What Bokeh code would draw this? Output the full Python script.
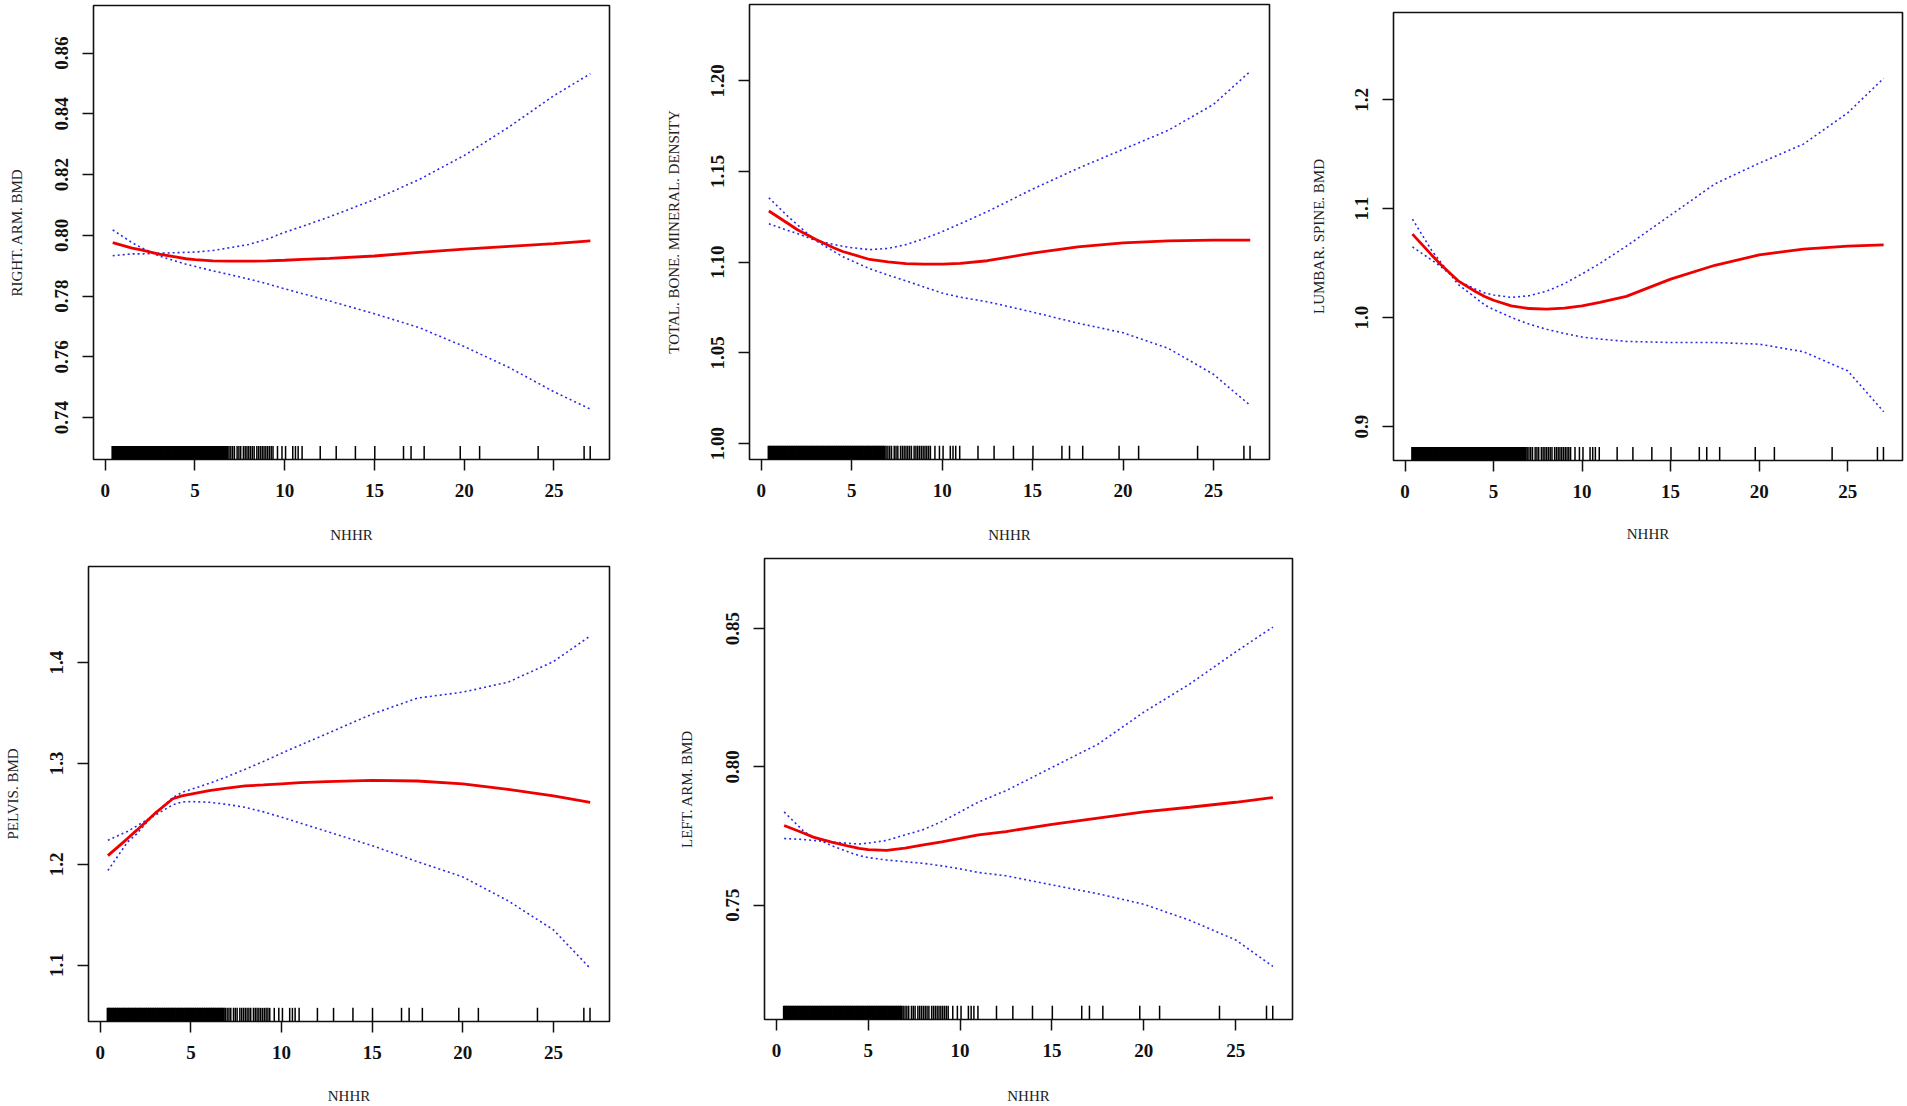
from bokeh.plotting import figure
from bokeh.layouts import row, column
from bokeh.models import FixedTicker, Range1d, PrintfTickFormatter
from bokeh.embed import file_html
from bokeh.resources import INLINE

# ---------------- data ----------------
nhhr_grid = [0.42, 1.5, 2, 3, 4, 4.5, 5, 6, 7, 8, 9, 10, 11, 12.5, 15, 17.5, 20, 22.5, 25, 27.03]

right_arm_fit = [0.7976, 0.7958, 0.7952, 0.7938, 0.7928, 0.7923, 0.7920, 0.7916, 0.7915, 0.7915,
                 0.7916, 0.7918, 0.7921, 0.7924, 0.7932, 0.7944, 0.7955, 0.7964, 0.7973, 0.7982]
right_arm_ci_a = [0.8018, 0.7976, 0.7960, 0.7932, 0.7914, 0.7905, 0.7898, 0.7883, 0.7870, 0.7856,
                  0.7841, 0.7824, 0.7808, 0.7784, 0.7742, 0.7696, 0.7634, 0.7565, 0.7485, 0.7428]
right_arm_ci_b = [0.7933, 0.7939, 0.7939, 0.7941, 0.7943, 0.7944, 0.7945, 0.7950, 0.7960, 0.7970,
                  0.7987, 0.8010, 0.8030, 0.8061, 0.8118, 0.8184, 0.8263, 0.8357, 0.8460, 0.8532]

total_bmd_fit = [1.1282, 1.1212, 1.1179, 1.1126, 1.1080, 1.1059, 1.1044, 1.1015, 1.1002, 1.0992,
                 1.0989, 1.0989, 1.0994, 1.1008, 1.1050, 1.1084, 1.1107, 1.1118, 1.1122, 1.1122]
total_bmd_ci_a = [1.1355, 1.1250, 1.1206, 1.1120, 1.1060, 1.1031, 1.1008, 1.0964, 1.0929, 1.0897,
                  1.0863, 1.0830, 1.0807, 1.0782, 1.0725, 1.0664, 1.0611, 1.0525, 1.0382, 1.0210]
total_bmd_ci_b = [1.1212, 1.1174, 1.1158, 1.1120, 1.1098, 1.1088, 1.1080, 1.1069, 1.1076, 1.1097,
                  1.1130, 1.1168, 1.1212, 1.1279, 1.1403, 1.1517, 1.1622, 1.1727, 1.1870, 1.2052]

lumbar_fit = [1.0767, 1.0576, 1.0491, 1.0338, 1.0238, 1.0195, 1.0160, 1.0109, 1.0084, 1.0078,
              1.0087, 1.0109, 1.0141, 1.0195, 1.0354, 1.0481, 1.0576, 1.0630, 1.0656, 1.0669]
lumbar_ci_a = [1.0904, 1.0618, 1.0513, 1.0306, 1.0180, 1.0116, 1.0074, 1.0003, 0.9941, 0.9893,
               0.9855, 0.9822, 0.9804, 0.9782, 0.9772, 0.9772, 0.9757, 0.9687, 0.9512, 0.9137]
lumbar_ci_b = [1.0650, 1.0529, 1.0472, 1.0338, 1.0260, 1.0227, 1.0208, 1.0186, 1.0201, 1.0243,
               1.0313, 1.0402, 1.0497, 1.0656, 1.0942, 1.1228, 1.1418, 1.1593, 1.1880, 1.2197]

pelvis_fit = [1.2086, 1.2255, 1.2336, 1.2502, 1.2650, 1.2678, 1.2696, 1.2731, 1.2756, 1.2777,
              1.2787, 1.2798, 1.2809, 1.2819, 1.2833, 1.2826, 1.2798, 1.2742, 1.2678, 1.2615]
pelvis_ci_a = [1.2238, 1.2326, 1.2379, 1.2484, 1.2590, 1.2618, 1.2622, 1.2615, 1.2594, 1.2565,
               1.2520, 1.2467, 1.2410, 1.2326, 1.2185, 1.2026, 1.1875, 1.1638, 1.1350, 1.0968]
pelvis_ci_b = [1.1938, 1.2220, 1.2300, 1.2502, 1.2661, 1.2713, 1.2742, 1.2802, 1.2869, 1.2943,
               1.3020, 1.3101, 1.3179, 1.3295, 1.3489, 1.3648, 1.3707, 1.3806, 1.4010, 1.4264]

left_arm_fit = [0.7788, 0.7760, 0.7746, 0.7728, 0.7712, 0.7705, 0.7701, 0.7698, 0.7706, 0.7718,
                0.7729, 0.7741, 0.7754, 0.7766, 0.7792, 0.7815, 0.7837, 0.7854, 0.7872, 0.7889]
left_arm_ci_a = [0.7837, 0.7766, 0.7747, 0.7715, 0.7690, 0.7679, 0.7672, 0.7663, 0.7657, 0.7651,
                 0.7642, 0.7631, 0.7618, 0.7606, 0.7573, 0.7541, 0.7503, 0.7445, 0.7374, 0.7278]
left_arm_ci_b = [0.7741, 0.7737, 0.7734, 0.7728, 0.7723, 0.7721, 0.7724, 0.7734, 0.7754, 0.7773,
                 0.7802, 0.7837, 0.7873, 0.7914, 0.7998, 0.8082, 0.8198, 0.8300, 0.8416, 0.8506]

# observed NHHR values shown as the rug: a dense block below ~7, then sparse values
rug_nhhr_dense = [0.42, 0.5, 0.6, 0.7, 0.8, 0.9, 1.0, 1.1, 1.2, 1.3, 1.4, 1.5, 1.6, 1.7, 1.8, 1.9,
                  2.0, 2.1, 2.2, 2.3, 2.4, 2.5, 2.6, 2.7, 2.8, 2.9, 3.0, 3.1, 3.2, 3.3, 3.4, 3.5,
                  3.6, 3.7, 3.8, 3.9, 4.0, 4.1, 4.2, 4.3, 4.4, 4.5, 4.6, 4.7, 4.8, 4.9, 5.0, 5.1,
                  5.2, 5.3, 5.4, 5.5, 5.6, 5.7, 5.8, 5.9, 6.0, 6.1, 6.2, 6.3, 6.4, 6.5, 6.6, 6.7, 6.8]
rug_nhhr_sparse = [6.9, 7.0, 7.1, 7.2, 7.35, 7.45, 7.55, 7.7, 7.8, 7.9, 8.0, 8.1, 8.2, 8.3, 8.45, 8.55,
                   8.65, 8.75, 8.85, 8.95, 9.05, 9.15, 9.25, 9.35, 9.6, 9.85, 10.05, 10.45, 10.6, 10.75,
                   10.97, 11.98, 12.87, 13.94, 15.02, 16.62, 17.04, 17.77, 19.78, 20.86, 24.12, 26.68, 27.02]

x_ticks = [0, 5, 10, 15, 20, 25]
x_label = "NHHR"

right_arm_ticks = [0.74, 0.76, 0.78, 0.80, 0.82, 0.84, 0.86]
total_bmd_ticks = [1.00, 1.05, 1.10, 1.15, 1.20]
lumbar_ticks = [0.9, 1.0, 1.1, 1.2]
pelvis_ticks = [1.1, 1.2, 1.3, 1.4]
left_arm_ticks = [0.75, 0.80, 0.85]

# ---------------- layout / style ----------------
X_RANGE = (-0.65, 28.095)
SERIF = "Liberation Serif"

panels = [
    dict(label="RIGHT. ARM. BMD", fit=right_arm_fit, a=right_arm_ci_a, b=right_arm_ci_b,
         ticks=right_arm_ticks, fmt="%.2f", yr=(0.72621, 0.87567),
         w=640, h=553, bl=93, br=31, bt=5, bb=94, ystand=28, xstand=27),
    dict(label="TOTAL. BONE. MINERAL. DENSITY", fit=total_bmd_fit, a=total_bmd_ci_a, b=total_bmd_ci_b,
         ticks=total_bmd_ticks, fmt="%.2f", yr=(0.99123, 1.24206),
         w=650, h=553, bl=109, br=21, bt=4, bb=94, ystand=27, xstand=27),
    dict(label="LUMBAR. SPINE. BMD", fit=lumbar_fit, a=lumbar_ci_a, b=lumbar_ci_b,
         ticks=lumbar_ticks, fmt="%.1f", yr=(0.86888, 1.28014),
         w=616, h=553, bl=103, br=4, bt=12, bb=93, ystand=26, xstand=25),
    dict(label="PELVIS. BMD", fit=pelvis_fit, a=pelvis_ci_a, b=pelvis_ci_b,
         ticks=pelvis_ticks, fmt="%.1f", yr=(1.0441, 1.4953),
         w=660, h=553, bl=88, br=51, bt=13, bb=84, ystand=27, xstand=26),
    dict(label="LEFT. ARM. BMD", fit=left_arm_fit, a=left_arm_ci_a, b=left_arm_ci_b,
         ticks=left_arm_ticks, fmt="%.2f", yr=(0.7086, 0.8754),
         w=650, h=553, bl=104, br=18, bt=5, bb=86, ystand=29, xstand=28),
]


def make_panel(c):
    ylo, yhi = c["yr"]
    p = figure(width=c["w"], height=c["h"], x_range=Range1d(*X_RANGE), y_range=Range1d(ylo, yhi),
               output_backend="svg", toolbar_location=None,
               min_border_left=c["bl"], min_border_right=c["br"],
               min_border_top=c["bt"], min_border_bottom=c["bb"])
    p.frame_align = False
    p.xgrid.visible = False
    p.ygrid.visible = False
    p.background_fill_color = "white"
    p.border_fill_color = "white"
    p.outline_line_color = "#111111"
    p.outline_line_width = 1.6

    # rug along the bottom (3% of plot height)
    rug_top = ylo + 0.03 * (yhi - ylo)
    p.segment(x0=rug_nhhr_dense, y0=[ylo] * len(rug_nhhr_dense),
              x1=rug_nhhr_dense, y1=[rug_top] * len(rug_nhhr_dense),
              line_color="black", line_width=2.6)
    p.segment(x0=rug_nhhr_sparse, y0=[ylo] * len(rug_nhhr_sparse),
              x1=rug_nhhr_sparse, y1=[rug_top] * len(rug_nhhr_sparse),
              line_color="black", line_width=1.5)

    # confidence limits and fitted curve
    p.line(nhhr_grid, c["a"], line_color="#2a2ae6", line_width=1.6, line_dash="2 3")
    p.line(nhhr_grid, c["b"], line_color="#2a2ae6", line_width=1.6, line_dash="2 3")
    p.line(nhhr_grid, c["fit"], line_color="#ee0000", line_width=2.8)

    for ax in (p.xaxis, p.yaxis):
        ax.axis_line_color = None
        ax.major_tick_in = 0
        ax.major_tick_out = 11
        ax.major_tick_line_width = 1.5
        ax.major_tick_line_color = "#111111"
        ax.minor_tick_line_color = None
        ax.major_label_text_font = SERIF
        ax.major_label_text_font_size = "19px"
        ax.major_label_text_font_style = "bold"
        ax.major_label_text_color = "#111111"
        ax.axis_label_text_font = SERIF
        ax.axis_label_text_font_size = "15px"
        ax.axis_label_text_font_style = "normal"
        ax.axis_label_text_color = "#222222"

    p.xaxis.ticker = FixedTicker(ticks=x_ticks)
    p.xaxis.major_label_standoff = 13
    p.xaxis.axis_label = x_label
    p.xaxis.axis_label_standoff = c["xstand"]

    p.yaxis.ticker = FixedTicker(ticks=c["ticks"])
    p.yaxis.formatter = PrintfTickFormatter(format=c["fmt"])
    p.yaxis.major_label_orientation = "vertical"
    p.yaxis.major_label_standoff = 14
    p.yaxis.axis_label = c["label"]
    p.yaxis.axis_label_standoff = c["ystand"]
    return p


figs = [make_panel(c) for c in panels]
layout = column(row(figs[0], figs[1], figs[2]), row(figs[3], figs[4]))

open("out.html", "w").write(file_html(layout, INLINE))
